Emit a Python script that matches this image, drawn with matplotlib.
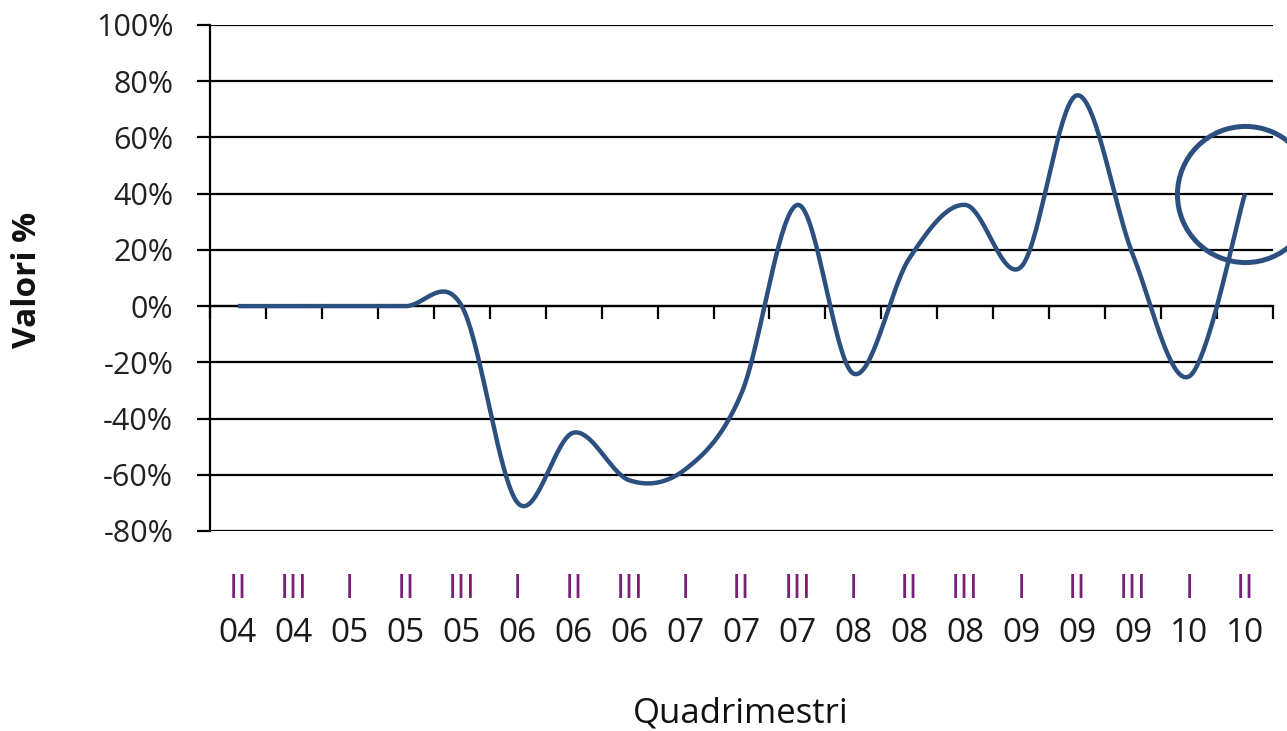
import numpy as np
import matplotlib
matplotlib.use("Agg")
import matplotlib.pyplot as plt
from matplotlib.ticker import FixedLocator, NullFormatter

plt.rcParams['font.family'] = ['Open Sans', 'DejaVu Sans']

# ---- data ----
quarters = ["II", "III", "I", "II", "III", "I", "II", "III", "I", "II",
            "III", "I", "II", "III", "I", "II", "III", "I", "II"]
years = ["04", "04", "05", "05", "05", "06", "06", "06", "07", "07",
         "07", "08", "08", "08", "09", "09", "09", "10", "10"]
values = [0.00, 0.00, 0.00, 0.00, 0.00, -0.70, -0.45, -0.62, -0.58, -0.31,
          0.36, -0.24, 0.17, 0.36, 0.14, 0.75, 0.18, -0.25, 0.40]
yticks = [-0.8, -0.6, -0.4, -0.2, 0.0, 0.2, 0.4, 0.6, 0.8, 1.0]
ytick_labels = ["-80%", "-60%", "-40%", "-20%", "0%", "20%", "40%", "60%", "80%", "100%"]

LINE_COLOR = "#2b4f7e"


def catmull_rom(x, y, n=40):
    x = np.asarray(x, float)
    y = np.asarray(y, float)
    px = np.concatenate([[x[0]], x, [x[-1]]])
    py = np.concatenate([[y[0]], y, [y[-1]]])
    xs, ys = [], []
    t = np.linspace(0, 1, n)
    for i in range(1, len(px) - 2):
        p0x, p1x, p2x, p3x = px[i - 1], px[i], px[i + 1], px[i + 2]
        p0y, p1y, p2y, p3y = py[i - 1], py[i], py[i + 1], py[i + 2]
        c1x = p1x + (p2x - p0x) / 6.0
        c2x = p2x - (p3x - p1x) / 6.0
        c1y = p1y + (p2y - p0y) / 6.0
        c2y = p2y - (p3y - p1y) / 6.0
        b0 = (1 - t) ** 3
        b1 = 3 * (1 - t) ** 2 * t
        b2 = 3 * (1 - t) * t ** 2
        b3 = t ** 3
        xs.append(b0 * p1x + b1 * c1x + b2 * c2x + b3 * p2x)
        ys.append(b0 * p1y + b1 * c1y + b2 * c2y + b3 * p2y)
    return np.concatenate(xs), np.concatenate(ys)


fig = plt.figure(figsize=(12.87, 7.31), dpi=100)
W, H = 1287, 731
left, right, top, bottom = 210, 1273, 25, 531
ax = fig.add_axes([left / W, 1 - bottom / H, (right - left) / W, (bottom - top) / H])

n = len(values)
x = np.arange(n)
ax.set_xlim(-0.5, n - 0.5)
ax.set_ylim(-0.8, 1.0)

# gridlines
for yv in yticks:
    ax.axhline(yv, color="black", lw=1.6, zorder=1)

# smoothed line
sx, sy = catmull_rom(x, values)
ax.plot(sx, sy, color=LINE_COLOR, lw=3.2, solid_capstyle="butt", zorder=3)

# highlight circle on last point
ax.plot([x[-1]], [values[-1]], marker="o", markersize=98, markerfacecolor="none",
        markeredgecolor=LINE_COLOR, markeredgewidth=3.6, clip_on=False, zorder=4)

# spines
for s in ("top", "right"):
    ax.spines[s].set_visible(False)
ax.spines["left"].set_linewidth(1.6)
ax.spines["bottom"].set_position(("data", 0))
ax.spines["bottom"].set_linewidth(1.6)

# y ticks
ax.yaxis.set_major_locator(FixedLocator(yticks))
ax.set_yticklabels(ytick_labels)
ax.tick_params(axis="y", direction="out", length=9.5, width=1.6, pad=17,
               labelsize=22, labelcolor="#222222")

# x ticks at category boundaries, on the 0 line
ax.xaxis.set_major_locator(FixedLocator(np.arange(n + 1) - 0.5))
ax.xaxis.set_major_formatter(NullFormatter())
ax.tick_params(axis="x", direction="out", length=9, width=1.6)

# category labels placed low
tr = ax.get_xaxis_transform()
for i in range(n):
    ax.text(x[i], (bottom - 590) / (bottom - top), quarters[i], transform=tr,
            ha="center", va="center", fontsize=24, color="#7a1f7a")
    ax.text(x[i], (bottom - 633) / (bottom - top), years[i], transform=tr,
            ha="center", va="center", fontsize=24, color="#1a1a1a")

fig.text(741 / W, 1 - 713 / H, "Quadrimestri", ha="center", va="center",
         fontsize=25, color="#111111")
fig.text(28 / W, 1 - 280 / H, "Valori %", ha="center", va="center",
         rotation=90, fontsize=24, fontweight="bold", color="#111111")

fig.savefig("out.png", dpi=100)
